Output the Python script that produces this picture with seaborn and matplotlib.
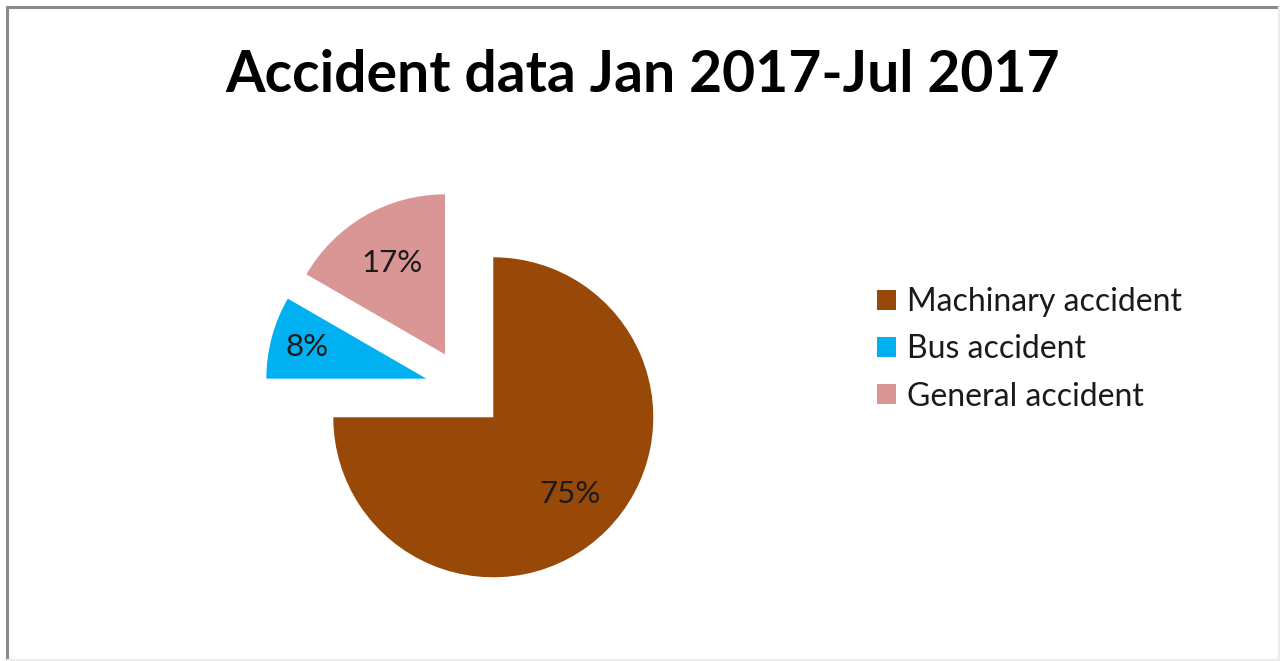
import numpy as np
import matplotlib
matplotlib.use("Agg")
import matplotlib.pyplot as plt
import seaborn as sns
from matplotlib.patches import Patch
from matplotlib.lines import Line2D

categories = ["Machinary accident", "Bus accident", "General accident"]
values = [9, 1, 2]
colors = ["#984807", "#00B0F0", "#D99694"]
title = "Accident data Jan 2017-Jul 2017"

sns.set_theme(style="white")
plt.rcParams['font.family'] = ['Lato', 'DejaVu Sans']

W, H = 1280, 661
fig = plt.figure(figsize=(W / 100, H / 100), dpi=100)
fig.patch.set_facecolor("white")

# pie axes: center at (465, 389) px from top-left, radius 160 px
R = 160.0
cx, cy = 465.0, 389.0
half_w = 300.0
half_h = H - cy
ax = fig.add_axes([(cx - half_w) / W, 0, 2 * half_w / W, 2 * half_h / H])

explode = [0.25] * len(values)
wedges, texts, autotexts = ax.pie(
    values, colors=colors, explode=explode, startangle=90, counterclock=False,
    autopct=lambda p: f"{p:.0f}%", pctdistance=0.68,
    textprops=dict(fontsize=22.5, color="#1a1a1a"),
    wedgeprops=dict(linewidth=0), frame=True)
ax.set_xlim(-half_w / R, half_w / R)
ax.set_ylim(-half_h / R, half_h / R)
ax.set_aspect("auto")
ax.axis("off")

# label distances per wedge
dists = [0.68, 0.77, 0.66]
for w, t, d, e in zip(wedges, autotexts, dists, explode):
    mid = np.deg2rad((w.theta1 + w.theta2) / 2)
    x = (e + d) * np.cos(mid)
    y = (e + d) * np.sin(mid)
    t.set_position((x, y))

fig.text(643 / W, 1 - 75 / H, title, ha="center", va="center",
         fontsize=41, fontweight="bold", color="black")

handles = [Patch(facecolor=c, edgecolor="none") for c in colors]
leg = fig.legend(handles, categories, loc="upper left",
                 bbox_to_anchor=(877 / W, 1 - 287 / H), frameon=False,
                 fontsize=23, handlelength=0.6, handleheight=0.6,
                 handletextpad=0.35, labelspacing=0.54, borderpad=0,
                 borderaxespad=0)
for t in leg.get_texts():
    t.set_color("#1a1a1a")

# border frame
fig.add_artist(Line2D([6.5 / W, 6.5 / W], [0, 1 - 6.5 / H], color="#8a8a8a", lw=2.2))
fig.add_artist(Line2D([6.5 / W, 1], [1 - 6.5 / H, 1 - 6.5 / H], color="#8a8a8a", lw=2.2))
fig.add_artist(Line2D([1 - 1.5 / W, 1 - 1.5 / W], [0, 1 - 6.5 / H], color="#ececec", lw=1.5))
fig.add_artist(Line2D([6.5 / W, 1], [1.5 / H, 1.5 / H], color="#ececec", lw=1.5))

fig.savefig("out.png", dpi=100)
